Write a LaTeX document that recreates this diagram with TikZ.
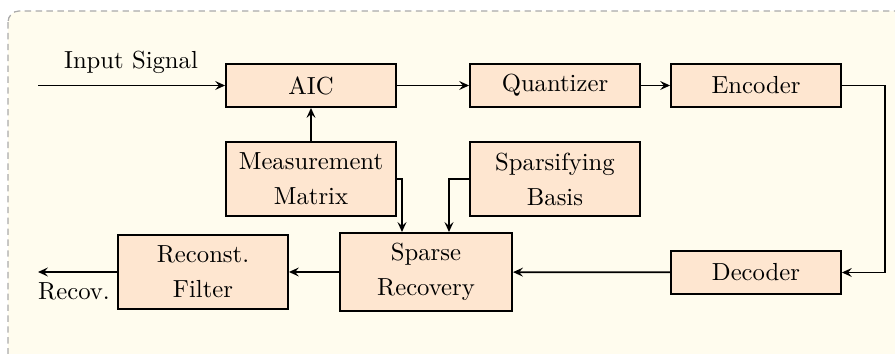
\documentclass[tikz,border=0pt]{standalone}
\usetikzlibrary{arrows.meta}
\definecolor{bgc}{RGB}{255,252,238}
\definecolor{boxc}{RGB}{254,230,208}
\definecolor{framec}{RGB}{170,170,170}
\begin{document}
\begin{tikzpicture}[x=0.405pt,y=-0.405pt,
 blk/.style={draw,line width=0.8pt,fill=boxc,minimum width=68.8pt,minimum height=17.4pt,inner sep=0pt,align=center,font=\fontsize{10}{14.2}\selectfont},
 tall/.style={blk,minimum height=30pt},
 conn/.style={line width=0.7pt,-{Stealth[length=4pt,width=3.6pt,inset=1.5pt]}},
 lbl/.style={inner sep=0pt,font=\fontsize{10}{12}\selectfont}]
\useasboundingbox (0,0) rectangle (895,354);
\begin{scope}
\clip (0,0) rectangle (895,354);
\draw[framec,line width=0.5pt,dash pattern=on 2.6pt off 1.8pt,fill=bgc,rounded corners=4.5pt] (8,11) rectangle (930,390);
\end{scope}
\node[blk] (aic) at (311,85.5) {AIC};
\node[blk] (quant) at (555,85.5) {Quantizer};
\node[blk] (enc) at (756,85.5) {Encoder};
\node[blk] (dec) at (756,272.5) {Decoder};
\node[tall] (mm) at (311,179) {Measurement\\Matrix};
\node[tall] (sb) at (555,179) {Sparsifying\\Basis};
\node[tall,minimum height=31.6pt,minimum width=69.7pt] (sr) at (426,272) {Sparse\\Recovery};
\node[tall] (rf) at (203,272) {Reconst.\\Filter};
\coordinate (in) at (38,85.5);
\coordinate (out) at (38,272);
\coordinate (turn) at (885,0);
\coordinate (mmdrop) at (402,0);
\coordinate (sbdrop) at (449,0);
\node[lbl] (inlbl) at (131,62) {Input Signal};
\node[lbl] (outlbl) at (74,291) {Recov.};
\draw[conn] (in) -- (aic);
\draw[conn] (aic) -- (quant);
\draw[conn] (quant) -- (enc);
\draw[conn] (enc.east) -- (enc.east -| turn) |- (dec.east);
\draw[conn] (dec) -- (sr);
\draw[conn] (sr) -- (rf);
\draw[conn] (rf) -- (out);
\draw[conn] (mm) -- (aic);
\draw[conn] (mm.east) -| (mmdrop |- sr.north);
\draw[conn] (sb.west) -| (sbdrop |- sr.north);
\end{tikzpicture}
\end{document}
